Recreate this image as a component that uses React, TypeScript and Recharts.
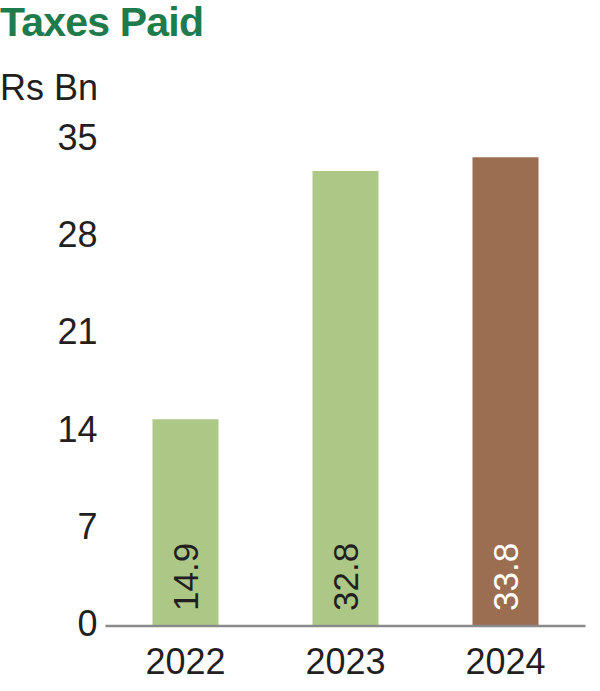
import React from "react";
import { BarChart, Bar, XAxis, YAxis, Cell, LabelList } from "recharts";

const categories = ["2022", "2023", "2024"];
const values = [14.9, 32.8, 33.8];
const yTicks = [0, 7, 14, 21, 28, 35];
const barColors = ["#adc886", "#adc886", "#9b6e52"];
const labelColors = ["#231f20", "#231f20", "#ffffff"];

const data = categories.map((c, i) => ({ year: c, value: values[i] }));

const FONT = "'Liberation Sans', Arial, sans-serif";

const renderLabel = (props: any) => {
  const { x, y, width, height, index, value } = props;
  const cx = x + width / 2;
  const by = y + height - 15;
  return (
    <text
      x={cx}
      y={by}
      transform={`rotate(-90 ${cx} ${by})`}
      textAnchor="start"
      dominantBaseline="central"
      fontSize={35}
      fontFamily={FONT}
      fill={labelColors[index]}
    >
      {value}
    </text>
  );
};

export default function App() {
  return (
    <div style={{ position: "absolute", left: 0, top: 0, width: 600, height: 691, background: "#fff" }}>
      <div
        style={{
          position: "absolute",
          left: 0,
          top: 0,
          fontFamily: FONT,
          fontWeight: 700,
          fontSize: 41,
          lineHeight: 1.12,
          color: "#1f7a4c",
          whiteSpace: "nowrap",
          letterSpacing: -0.8,
        }}
      >
        Taxes Paid
      </div>
      <div
        style={{
          position: "absolute",
          left: 0,
          top: 67,
          fontFamily: FONT,
          fontSize: 36,
          color: "#231f20",
          whiteSpace: "nowrap",
        }}
      >
        Rs Bn
      </div>
      <div style={{ position: "absolute", left: 0, top: 0 }}>
        <BarChart
          width={600}
          height={691}
          data={data}
          margin={{ top: 140.5, right: 14.5, bottom: 0, left: 5.5 }}
          barCategoryGap={47}
        >
          <XAxis
            dataKey="year"
            height={65}
            axisLine={{ stroke: "#8a8a8a", strokeWidth: 2.5 }}
            tickLine={false}
            tick={{ fontSize: 36, fontFamily: FONT, fill: "#231f20" }}
            dy={14}
          />
          <YAxis
            domain={[0, 35]}
            ticks={yTicks}
            axisLine={false}
            tickLine={false}
            width={100}
            tick={{ fontSize: 36, fontFamily: FONT, fill: "#231f20" }}
            dy={-3}
          />
          <Bar dataKey="value" isAnimationActive={false}>
            {data.map((d, i) => (
              <Cell key={d.year} fill={barColors[i]} />
            ))}
            <LabelList dataKey="value" content={renderLabel} />
          </Bar>
        </BarChart>
      </div>
    </div>
  );
}
